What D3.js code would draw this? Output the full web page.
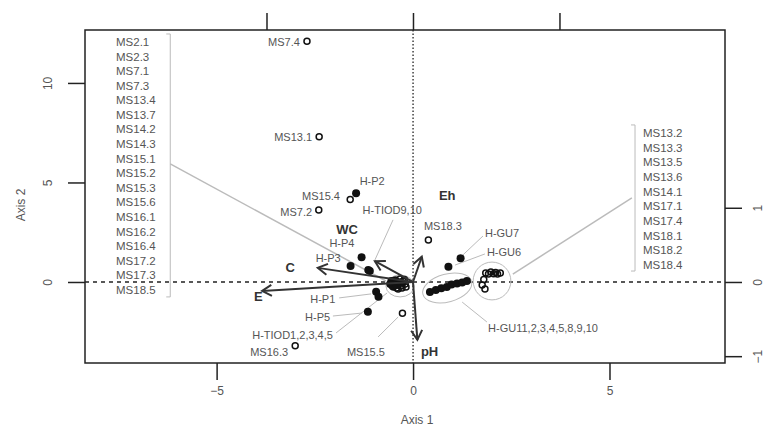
<!DOCTYPE html>
<html>
<head>
<meta charset="utf-8">
<script src="https://cdn.jsdelivr.net/npm/d3@7"></script>
<style>
  body { margin: 0; background: #fff; }
  svg { font-family: "Liberation Sans", Arial, sans-serif; }
</style>
</head>
<body>
<div id="chart"></div>
<script>
const layout = {
    width: 768,
    height: 435,
    left: 85,
    right: 725,
    top: 30,
    bottom: 363,
    tick: 17
};

// axis ticks
const xTicks = [-5, 0, 5];
const yTicks = [0, 5, 10];
const topTicks = [-1, 0, 1];
const rightTicks = [-1, 0, 1];

// individual open samples (MS)
const msPoints = [
    {x: -2.70, y: 12.10}, {x: -2.39, y: 7.30}, {x: -1.60, y: 4.15},
    {x: -2.40, y: 3.62}, {x: 0.39, y: 2.11}, {x: -3.00, y: -3.20},
    {x: -0.27, y: -1.57}
];
// open samples clustered near origin (MS2.1 ... MS18.5)
const leftCluster = [
    {x: -0.20, y: -0.10}, {x: -0.25, y: 0.05}, {x: -0.30, y: -0.20},
    {x: -0.35, y: 0.00}, {x: -0.40, y: -0.15}, {x: -0.45, y: 0.10},
    {x: -0.50, y: -0.25}, {x: -0.28, y: -0.30}, {x: -0.38, y: -0.35},
    {x: -0.22, y: 0.12}, {x: -0.33, y: 0.15}, {x: -0.48, y: -0.05},
    {x: -0.42, y: -0.30}, {x: -0.18, y: -0.25}, {x: -0.55, y: -0.10},
    {x: -0.26, y: -0.05}, {x: -0.36, y: -0.10}, {x: -0.44, y: 0.00}
];
// open samples right cluster (MS13.2 ... MS18.4)
const rightCluster = [
    {x: 1.85, y: 0.45}, {x: 1.98, y: 0.50}, {x: 2.10, y: 0.48},
    {x: 2.22, y: 0.45}, {x: 1.92, y: 0.40}, {x: 2.05, y: 0.42},
    {x: 1.80, y: 0.12}, {x: 1.76, y: -0.15}, {x: 1.83, y: -0.35},
    {x: 2.15, y: 0.40}
];
// filled samples (H-)
const hPoints = [
    {x: -1.45, y: 4.46}, {x: -1.31, y: 1.24}, {x: -1.59, y: 0.80},
    {x: -1.14, y: 0.60}, {x: -1.10, y: 0.55},
    {x: -0.94, y: -0.49}, {x: -0.88, y: -0.74}, {x: -1.15, y: -1.49},
    {x: -0.58, y: -0.10}, {x: -0.52, y: -0.20}, {x: -0.47, y: 0.05},
    {x: -0.42, y: -0.15}, {x: -0.55, y: 0.05},
    {x: 1.21, y: 1.19}, {x: 0.90, y: 0.77},
    {x: 0.43, y: -0.50}, {x: 0.58, y: -0.40}, {x: 0.72, y: -0.32},
    {x: 0.86, y: -0.25}, {x: 0.98, y: -0.12}, {x: 1.12, y: -0.08},
    {x: 1.25, y: -0.02}, {x: 1.37, y: 0.05}
];

// environmental vectors (top / right axis units)
const vectors = [
    {name: "E", x: -1.03, y: -0.12, lx: -3.94, ly: -0.75, anchor: "middle"},
    {name: "C", x: -0.65, y: 0.19, lx: -3.13, ly: 0.75, anchor: "middle"},
    {name: "WC", x: -0.26, y: 0.28, lx: -1.68, ly: 2.66, anchor: "middle"},
    {name: "Eh", x: 0.06, y: 0.34, lx: 0.87, ly: 4.37, anchor: "middle"},
    {name: "pH", x: 0.03, y: -0.78, lx: 0.20, ly: -3.47, anchor: "start"}
];

// point labels (axis-1 / axis-2 units), with optional leader line
const labels = [
    {t: "MS7.4", x: -2.88, y: 12.06, a: "end"},
    {t: "MS13.1", x: -2.57, y: 7.29, a: "end"},
    {t: "MS15.4", x: -1.86, y: 4.32, a: "end"},
    {t: "MS7.2", x: -2.57, y: 3.52, a: "end"},
    {t: "H-P2", x: -1.04, y: 5.08, a: "middle"},
    {t: "H-TIOD9,10", x: -0.53, y: 3.62, a: "middle", l: [-0.51, 3.12, -0.97, 1.11]},
    {t: "H-P4", x: -1.81, y: 1.96, a: "middle"},
    {t: "H-P3", x: -2.16, y: 1.21, a: "middle"},
    {t: "H-P1", x: -1.98, y: -0.85, a: "end", l: [-1.88, -0.80, -1.07, -0.60]},
    {t: "H-P5", x: -2.11, y: -1.76, a: "end", l: [-2.04, -1.71, -1.30, -1.56]},
    {t: "H-TIOD1,2,3,4,5", x: -2.04, y: -2.66, a: "end", l: [-1.96, -2.56, -0.66, -0.55]},
    {t: "MS16.3", x: -3.18, y: -3.52, a: "end"},
    {t: "MS15.5", x: -1.20, y: -3.52, a: "middle", l: [-0.89, -2.76, -0.38, -1.76]},
    {t: "MS18.3", x: 0.76, y: 2.81, a: "middle"},
    {t: "H-GU7", x: 1.83, y: 2.46, a: "start", l: [1.78, 2.31, 1.27, 1.36]},
    {t: "H-GU6", x: 1.88, y: 1.51, a: "start", l: [1.83, 1.41, 1.07, 0.85]},
    {t: "H-GU11,2,3,4,5,8,9,10", x: 1.91, y: -2.31, a: "start", l: [1.88, -2.01, 1.25, -1.01]}
];

// bracketed label lists
const leftList = ["MS2.1", "MS2.3", "MS7.1", "MS7.3", "MS13.4", "MS13.7", "MS14.2", "MS14.3",
    "MS15.1", "MS15.2", "MS15.3", "MS15.6", "MS16.1", "MS16.2", "MS16.4", "MS17.2", "MS17.3", "MS18.5"];
const rightList = ["MS13.2", "MS13.3", "MS13.5", "MS13.6", "MS14.1", "MS17.1", "MS17.4",
    "MS18.1", "MS18.2", "MS18.4"];
const brackets = [
    {list: leftList, tx: -7.56, y0: 12.06, y1: -0.40, bx: -6.18, b0: 12.46, b1: -0.75, l: [-6.18, 5.93, -0.69, 0.05]},
    {list: rightList, tx: 5.85, y0: 7.49, y1: 0.85, bx: 5.65, b0: 7.89, b1: 0.55, l: [5.57, 4.22, 2.54, 0.40]}
];

// hull ellipses: centre, radii in axis units, rotation
const ellipses = [
    {x: -0.33, y: -0.20, rx: 0.36, ry: 0.55, rot: 0},
    {x: 2.01, y: 0.05, rx: 0.48, ry: 0.95, rot: 0},
    {x: 0.87, y: -0.30, rx: 0.64, ry: 0.70, rot: -15}
];

let x = d3.scaleLinear().domain([-8.35, 7.94]).range([layout.left, layout.right]);
let y = d3.scaleLinear().domain([-4.07, 12.66]).range([layout.bottom, layout.top]);
let xTop = d3.scaleLinear().domain([-2.239, 2.130]).range([layout.left, layout.right]);
let yRight = d3.scaleLinear().domain([-1.092, 3.396]).range([layout.bottom, layout.top]);

let svg = d3.select("#chart").append("svg")
    .attr("width", layout.width)
    .attr("height", layout.height);

const textGray = "#555";
const leaderGray = "#bbb";

// reference lines at zero
svg.append("line")
    .attr("x1", layout.left).attr("x2", layout.right)
    .attr("y1", y(0)).attr("y2", y(0))
    .attr("stroke", "#222").attr("stroke-width", 1.3)
    .attr("stroke-dasharray", "4,4");
svg.append("line")
    .attr("x1", x(0)).attr("x2", x(0))
    .attr("y1", layout.top).attr("y2", layout.bottom)
    .attr("stroke", "#222").attr("stroke-width", 1.3)
    .attr("stroke-dasharray", "1.5,2");

// axes
function styleAxis(g) {
    g.selectAll(".domain").remove();
    g.selectAll("line").attr("stroke", "#222").attr("stroke-width", 1.5);
    g.selectAll("text").attr("fill", textGray).attr("font-size", 12);
}
svg.append("g")
    .attr("transform", `translate(0,${layout.bottom})`)
    .call(d3.axisBottom(x).tickValues(xTicks).tickSize(layout.tick).tickPadding(6).tickFormat(d3.format("d")))
    .call(styleAxis);
svg.append("g")
    .attr("transform", `translate(0,${layout.top})`)
    .call(d3.axisTop(xTop).tickValues(topTicks).tickSize(layout.tick).tickFormat(""))
    .call(styleAxis);

let yAxis = svg.append("g")
    .attr("transform", `translate(${layout.left},0)`)
    .call(d3.axisLeft(y).tickValues(yTicks).tickSize(layout.tick).tickFormat(d3.format("d")))
    .call(styleAxis);
yAxis.selectAll(".tick text")
    .attr("x", null).attr("dy", null)
    .attr("text-anchor", "middle")
    .attr("transform", "translate(-37,0) rotate(-90)")
    .attr("dy", "0.35em");

let rAxis = svg.append("g")
    .attr("transform", `translate(${layout.right},0)`)
    .call(d3.axisRight(yRight).tickValues(rightTicks).tickSize(layout.tick).tickFormat(d3.format("d")))
    .call(styleAxis);
rAxis.selectAll(".tick text")
    .attr("x", null).attr("dy", null)
    .attr("text-anchor", "middle")
    .attr("transform", "translate(33,0) rotate(-90)")
    .attr("dy", "0.35em");

// axis titles
svg.append("text")
    .attr("x", x(0) + 4).attr("y", 424)
    .attr("text-anchor", "middle")
    .attr("font-size", 12).attr("fill", textGray)
    .text("Axis 1");
svg.append("text")
    .attr("transform", "translate(25,205) rotate(-90)")
    .attr("text-anchor", "middle")
    .attr("font-size", 12).attr("fill", textGray)
    .text("Axis 2");

// ellipses round clusters
svg.append("g").selectAll("ellipse").data(ellipses).join("ellipse")
    .attr("transform", d => `translate(${x(d.x)},${y(d.y)}) rotate(${d.rot})`)
    .attr("rx", d => x(d.rx) - x(0))
    .attr("ry", d => y(0) - y(d.ry))
    .attr("fill", "none")
    .attr("stroke", leaderGray)
    .attr("stroke-width", 1);

// brackets with lists
brackets.forEach(b => {
    let g = svg.append("g");
    g.append("path")
        .attr("d", `M${x(b.bx) - 4},${y(b.b0)}H${x(b.bx)}V${y(b.b1)}H${x(b.bx) - 4}`)
        .attr("fill", "none").attr("stroke", leaderGray).attr("stroke-width", 1);
    g.append("line")
        .attr("x1", x(b.l[0])).attr("y1", y(b.l[1]))
        .attr("x2", x(b.l[2])).attr("y2", y(b.l[3]))
        .attr("stroke", leaderGray).attr("stroke-width", 1.5);
    let step = (y(b.y1) - y(b.y0)) / (b.list.length - 1);
    g.selectAll("text").data(b.list).join("text")
        .attr("x", x(b.tx))
        .attr("y", (d, i) => y(b.y0) + i * step)
        .attr("dy", "0.35em")
        .attr("font-size", 11.5)
        .attr("fill", textGray)
        .text(d => d);
});

// leader lines for labels
svg.append("g").selectAll("line").data(labels.filter(d => d.l)).join("line")
    .attr("x1", d => x(d.l[0])).attr("y1", d => y(d.l[1]))
    .attr("x2", d => x(d.l[2])).attr("y2", d => y(d.l[3]))
    .attr("stroke", leaderGray).attr("stroke-width", 1);

// sample points
let pts = svg.append("g");
pts.selectAll("circle.open")
    .data(msPoints.concat(leftCluster, rightCluster)).join("circle")
    .attr("class", "open")
    .attr("cx", d => x(d.x)).attr("cy", d => y(d.y))
    .attr("r", 3)
    .attr("fill", "none")
    .attr("stroke", "#111")
    .attr("stroke-width", 1.5);
pts.selectAll("circle.filled")
    .data(hPoints).join("circle")
    .attr("class", "filled")
    .attr("cx", d => x(d.x)).attr("cy", d => y(d.y))
    .attr("r", 4)
    .attr("fill", "#111");

// point labels
svg.append("g").selectAll("text").data(labels).join("text")
    .attr("x", d => x(d.x)).attr("y", d => y(d.y))
    .attr("dy", "0.35em")
    .attr("text-anchor", d => d.a)
    .attr("font-size", 11)
    .attr("fill", textGray)
    .text(d => d.t);

// vectors
let vg = svg.append("g");
vectors.forEach(v => {
    let x0 = xTop(0), y0 = yRight(0);
    let x1 = xTop(v.x), y1 = yRight(v.y);
    let ang = Math.atan2(y1 - y0, x1 - x0);
    let hl = 11, ha = Math.PI / 6;
    let head = `M${x1 - hl * Math.cos(ang - ha)},${y1 - hl * Math.sin(ang - ha)}L${x1},${y1}L${x1 - hl * Math.cos(ang + ha)},${y1 - hl * Math.sin(ang + ha)}`;
    vg.append("line")
        .attr("x1", x0).attr("y1", y0).attr("x2", x1).attr("y2", y1)
        .attr("stroke", "#333").attr("stroke-width", 2);
    vg.append("path")
        .attr("d", head)
        .attr("fill", "none").attr("stroke", "#333").attr("stroke-width", 2);
    vg.append("text")
        .attr("x", x(v.lx)).attr("y", y(v.ly))
        .attr("dy", "0.35em")
        .attr("text-anchor", v.anchor)
        .attr("font-size", 13)
        .attr("font-weight", "bold")
        .attr("fill", "#333")
        .text(v.name);
});

// plot frame
svg.append("rect")
    .attr("x", layout.left).attr("y", layout.top)
    .attr("width", layout.right - layout.left)
    .attr("height", layout.bottom - layout.top)
    .attr("fill", "none")
    .attr("stroke", "#222")
    .attr("stroke-width", 1.5);
</script>
</body>
</html>
